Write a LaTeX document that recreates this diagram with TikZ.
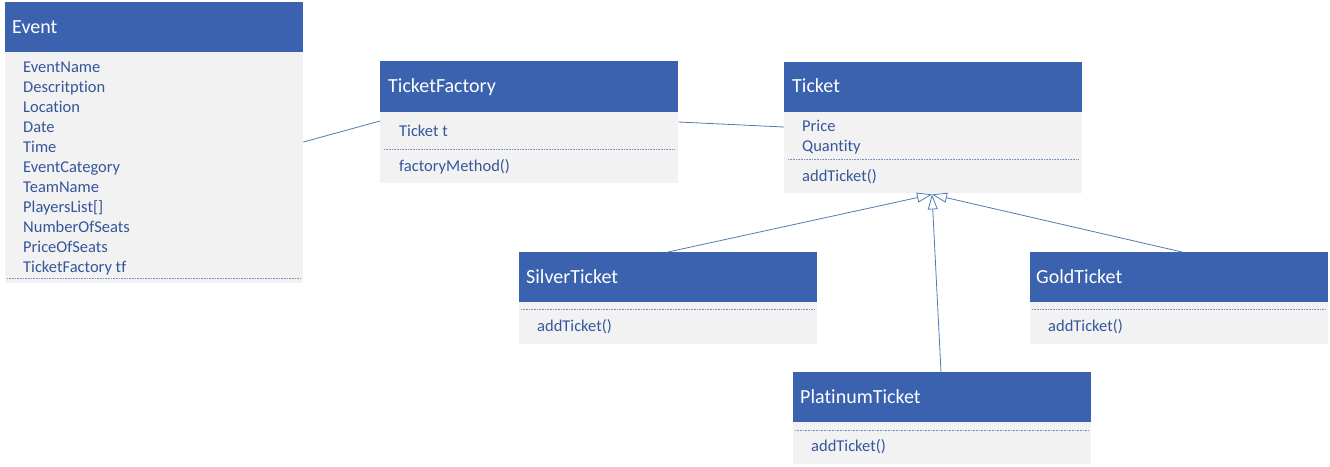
\documentclass[tikz,border=0pt]{standalone}
\usepackage{fontspec}
\setmainfont{Carlito}[Ligatures={NoCommon,NoContextual}]
\usetikzlibrary{arrows.meta}
\definecolor{hdrblue}{RGB}{58,98,174}
\definecolor{bodygray}{RGB}{242,242,242}
\definecolor{itemblue}{RGB}{52,86,154}
\definecolor{lineblue}{RGB}{82,122,178}
\begin{document}
\begin{tikzpicture}[x=1pt,y=-1pt,
  hdrbox/.style={fill=hdrblue, draw=none, anchor=north west, minimum width=298pt, minimum height=50pt, inner sep=0pt},
  bodybox/.style={fill=bodygray, draw=none, anchor=north west, minimum width=298pt, inner sep=0pt},
  titletext/.style={anchor=base west, text=white, font=\fontsize{20}{24}\selectfont, inner sep=0pt},
  itemtext/.style={anchor=base west, text=itemblue, font=\fontsize{16.5}{20}\selectfont, inner sep=0pt},
  sepline/.style={draw=lineblue!80, line width=0.6pt, dash pattern=on 0.8pt off 0.8pt},
  conn/.style={draw=lineblue, line width=0.8pt},
  inh/.style={conn, -{Triangle[open, length=15pt, width=10pt, line width=0.8pt]}}]
\useasboundingbox (0,0) rectangle (1330,466);

% Event
\node[hdrbox] (evh) at (5,2) {};
\node[bodybox, minimum height=231pt] (evb) at (5,52) {};
\node[titletext] (evt) at (12,33.3) {Event};
\foreach \t [count=\i from 0] in {EventName,Descritption,Location,Date,Time,EventCategory,TeamName,PlayersList[],NumberOfSeats,PriceOfSeats,TicketFactory tf}
  \node[itemtext] (evi\i) at (23,72.5+20*\i) {\t};
\draw[sepline] (7,278) -- (301,278);

% TicketFactory
\node[hdrbox, minimum height=51pt] (tfh) at (380,61) {};
\node[bodybox, minimum height=71pt] (tfb) at (380,112) {};
\node[titletext] (tft) at (388,92) {TicketFactory};
\node[itemtext] (tfi1) at (399,136.7) {Ticket t};
\draw[sepline] (384,149) -- (674,149);
\node[itemtext] (tfi2) at (399,171.5) {factoryMethod()};

% Ticket
\node[hdrbox] (tkh) at (784,62) {};
\node[bodybox, minimum height=81pt] (tkb) at (784,112) {};
\node[titletext] (tkt) at (792,92.5) {Ticket};
\node[itemtext] (tki1) at (802,131) {Price};
\node[itemtext] (tki2) at (802,151) {Quantity};
\draw[sepline] (788,159) -- (1078,159);
\node[itemtext] (tki3) at (802,181) {addTicket()};

% SilverTicket
\node[hdrbox] (svh) at (519,252) {};
\node[bodybox, minimum height=42pt] (svb) at (519,302) {};
\node[titletext] (svt) at (526,283) {SilverTicket};
\draw[sepline] (521,309.5) -- (815,309.5);
\node[itemtext] (svi) at (537,331.5) {addTicket()};

% GoldTicket
\node[hdrbox] (gdh) at (1030,252) {};
\node[bodybox, minimum height=42pt] (gdb) at (1030,302) {};
\node[titletext] (gdt) at (1036,283) {GoldTicket};
\draw[sepline] (1032,309.5) -- (1326,309.5);
\node[itemtext] (gdi) at (1048,331.5) {addTicket()};

% PlatinumTicket
\node[hdrbox] (plh) at (793,372) {};
\node[bodybox, minimum height=42pt] (plb) at (793,422) {};
\node[titletext] (plt) at (800,403) {PlatinumTicket};
\draw[sepline] (795,430) -- (1089,430);
\node[itemtext] (pli) at (811,451.5) {addTicket()};

% connectors
\draw[conn] ([yshift=-90pt]evb.north east) -- ([yshift=-9pt]tfb.north west);
\draw[conn] ([yshift=-10pt]tfb.north east) -- ([yshift=-15pt]tkb.north west);
\coordinate (tip) at ([xshift=148pt,yshift=-1pt]tkb.south west);
\draw[inh] ([xshift=149pt]svh.north west) -- (tip);
\draw[inh] ([xshift=152pt]gdh.north west) -- (tip);
\draw[inh] ([xshift=148pt]plh.north west) -- (tip);
\end{tikzpicture}
\end{document}
